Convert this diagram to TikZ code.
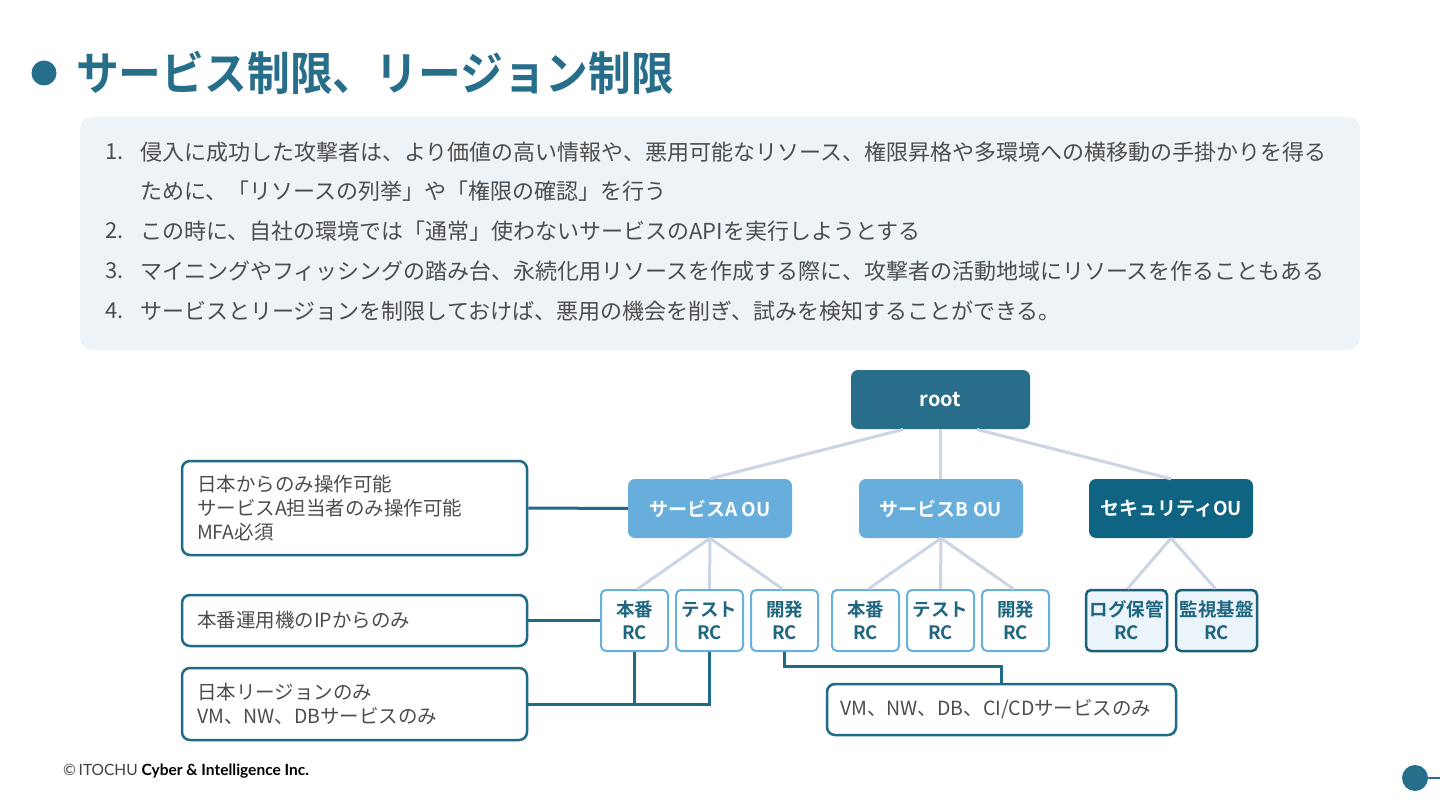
\documentclass[tikz,border=0pt]{standalone}
\usepackage{fontspec}
\setmainfont{Noto Sans CJK JP}[BoldFont={Noto Sans CJK JP Bold}]
\newfontfamily\footfont{Lato}
\definecolor{titleC}{HTML}{276E8B}
\definecolor{rootC}{HTML}{286E8A}
\definecolor{ouC}{HTML}{67AEDC}
\definecolor{secC}{HTML}{0E6482}
\definecolor{rcB}{HTML}{6AB0DC}
\definecolor{rcT}{HTML}{1F6680}
\definecolor{secRcF}{HTML}{EAF4FA}
\definecolor{secRcB}{HTML}{1B5F78}
\definecolor{treeC}{HTML}{CBD5E3}
\definecolor{linkC}{HTML}{1F6A85}
\definecolor{panelC}{HTML}{EEF3F8}
\definecolor{bodyC}{HTML}{4D4D4D}
\begin{document}
\begin{tikzpicture}[x=1pt,y=-1pt,
  treeline/.style={draw=treeC, line width=3pt},
  link/.style={draw=linkC, line width=3pt},
  ou/.style={rounded corners=7pt, minimum width=164pt, minimum height=59pt, inner sep=0pt, text=white, font=\fontsize{19}{23}\selectfont\bfseries},
  rc/.style={draw=rcB, line width=2pt, fill=white, rounded corners=5pt, minimum width=67pt, minimum height=61pt, inner sep=0pt, align=center, text=rcT, font=\fontsize{18.5}{23}\selectfont\bfseries},
  secrc/.style={rc, draw=secRcB, line width=2.5pt, fill=secRcF, minimum width=81pt},
  note/.style={draw=linkC, line width=2.5pt, fill=white, rounded corners=8pt, inner xsep=15pt, inner ysep=0pt, align=left, text=bodyC, font=\fontsize{19.5}{24}\selectfont},
  bodytext/.style={anchor=west, inner sep=0pt, text=bodyC, font=\fontsize{22}{26}\selectfont},
  numtext/.style={anchor=west, inner sep=0pt, text=bodyC, font=\fontsize{22}{26}\selectfont}
]
\useasboundingbox (0,0) rectangle (1440,810);
\fill[white] (0,0) rectangle (1440,810);

% title
\fill[titleC] (44,73) circle (12.5);
\node[anchor=west, inner sep=0pt, text=titleC, xscale=0.93, font=\fontsize{46}{52}\selectfont\bfseries] (title) at (76,73) {サービス制限、リージョン制限};

% panel
\fill[panelC, rounded corners=12pt] (80,117) rectangle (1360,350);
\node[numtext] (n1) at (105,152) {1.};
\node[bodytext] (t1a) at (140,152) {侵入に成功した攻撃者は、より価値の高い情報や、悪用可能なリソース、権限昇格や多環境への横移動の手掛かりを得る};
\node[bodytext] (t1b) at (140,191) {ために、「リソースの列挙」や「権限の確認」を行う};
\node[numtext] (n2) at (105,231) {2.};
\node[bodytext] (t2) at (140,231) {この時に、自社の環境では「通常」使わないサービスのAPIを実行しようとする};
\node[numtext] (n3) at (105,271) {3.};
\node[bodytext] (t3) at (140,271) {マイニングやフィッシングの踏み台、永続化用リソースを作成する際に、攻撃者の活動地域にリソースを作ることもある};
\node[numtext] (n4) at (105,311) {4.};
\node[bodytext] (t4) at (140,311) {サービスとリージョンを制限しておけば、悪用の機会を削ぎ、試みを検知することができる。};

% tree nodes
\node[ou, fill=rootC, minimum width=179pt, font=\fontsize{20}{24}\selectfont\bfseries] (root) at (940.5,399.5) {root};
\node[ou, fill=ouC] (A) at (710,508.5) {サービスA OU};
\node[ou, fill=ouC] (B) at (941,508.5) {サービスB OU};
\node[ou, fill=secC] (S) at (1171,508.5) {セキュリティOU};

\coordinate (rl) at (903,429.5);
\coordinate (rr) at (977,429.5);
\draw[treeline] (rl) -- (A.north);
\draw[treeline] (root.south) -- (root.south |- B.north);
\draw[treeline] (rr) -- (S.north);

\node[rc] (a1) at (634.5,620.5) {本番\\RC};
\node[rc] (a2) at (709.5,620.5) {テスト\\RC};
\node[rc] (a3) at (784.5,620.5) {開発\\RC};
\node[rc] (b1) at (865.5,620.5) {本番\\RC};
\node[rc] (b2) at (940.5,620.5) {テスト\\RC};
\node[rc] (b3) at (1015.5,620.5) {開発\\RC};
\node[secrc] (s1) at (1126.5,620.5) {ログ保管\\RC};
\node[secrc] (s2) at (1216.5,620.5) {監視基盤\\RC};

\draw[treeline] (A.south) -- ([xshift=3pt]a1.north);
\draw[treeline] (A.south) -- (a2.north);
\draw[treeline] (A.south) -- ([xshift=-2pt]a3.north);
\draw[treeline] (B.south) -- ([xshift=3pt]b1.north);
\draw[treeline] (B.south) -- (b2.north);
\draw[treeline] (B.south) -- ([xshift=-2pt]b3.north);
\draw[treeline] (S.south) -- ([xshift=1pt]s1.north);
\draw[treeline] (S.south) -- ([xshift=-1pt]s2.north);

% notes
\node[note, minimum width=345pt, minimum height=94pt, text width=315pt] (m1) at (354.5,508) {日本からのみ操作可能\\サービスA担当者のみ操作可能\\MFA必須};
\node[note, minimum width=345pt, minimum height=51pt, text width=315pt] (m2) at (354.5,620.5) {本番運用機のIPからのみ};
\node[note, minimum width=345pt, minimum height=72pt, text width=315pt] (m3) at (354.5,704) {日本リージョンのみ\\VM、NW、DBサービスのみ};
\node[note, inner xsep=13pt, minimum width=349pt, minimum height=51pt, text width=323pt] (m4) at (1001.5,709.5) {VM、NW、DB、CI/CDサービスのみ};

% links
\draw[link] (m1.east) -- (A.west);
\draw[link] (m2.east) -- (a1.west);
\draw[link] (m3.east) -- (m3.east -| a2.south) -- (a2.south);
\draw[link] (a1.south) -- (a1.south |- m3.east);
\coordinate (bend) at (900,666);
\draw[link] (a3.south) -- (a3.south |- bend) -| (m4.north);

% footer
\node[anchor=west, inner sep=0pt, font=\fontsize{15.5}{18}\selectfont\footfont] (foot) at (63,771) {\textcolor{black!75}{©\,ITOCHU} \textbf{Cyber \& Intelligence Inc.}};

% page marker
\fill[titleC] (1415,778) circle (13);
\coordinate (pe) at (1440,778);
\draw[titleC, line width=2.5pt] (1428,778) -- (pe);
\end{tikzpicture}
\end{document}
